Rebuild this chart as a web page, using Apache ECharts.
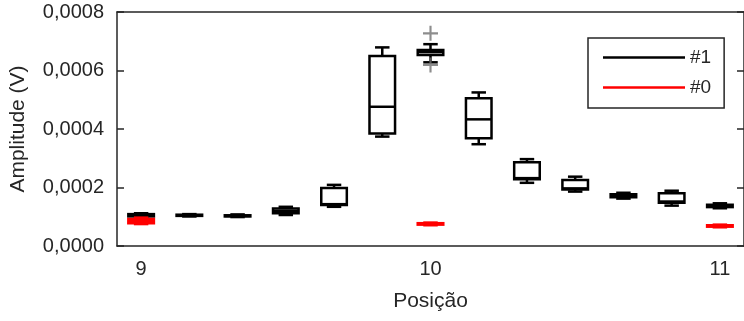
<!DOCTYPE html>
<html lang="pt">
<head>
    <meta charset="UTF-8">
    <title>Amplitude por posição</title>
    <script src="https://cdn.jsdelivr.net/npm/echarts@6/dist/echarts.min.js"></script>
</head>
<body style="margin:0">
<div id="main" style="width: 744px;height:321px;"></div>
<script>
    // posições no eixo x (uma caixa por posição)
    var posicoes = ['9', '9.17', '9.33', '9.5', '9.67', '9.83', '10', '10.17', '10.33', '10.5', '10.67', '10.83', '11'];

    // #1: [min, q1, mediana, q3, max] por posição
    var caixas1 = [
        [0.000098, 0.000101, 0.000105, 0.000109, 0.000112],
        [0.000101, 0.000103, 0.000105, 0.000107, 0.000109],
        [0.000099, 0.000101, 0.000103, 0.000105, 0.000108],
        [0.000106, 0.000112, 0.000120, 0.000128, 0.000134],
        [0.000134, 0.000140, 0.000143, 0.000198, 0.000209],
        [0.000374, 0.000385, 0.000476, 0.000650, 0.000679],
        [0.000628, 0.000653, 0.000663, 0.000670, 0.000690],
        [0.000348, 0.000368, 0.000433, 0.000505, 0.000525],
        [0.000216, 0.000228, 0.000232, 0.000286, 0.000297],
        [0.000186, 0.000193, 0.000197, 0.000226, 0.000237],
        [0.000162, 0.000167, 0.000172, 0.000177, 0.000182],
        [0.000138, 0.000148, 0.000152, 0.000180, 0.000189],
        [0.000129, 0.000133, 0.000137, 0.000141, 0.000146]
    ];
    var outliers1 = [[6, 0.000727], [6, 0.000619]];

    // #0: só nas posições 9, 10 e 11
    var indices0 = [0, 6, 12];
    var caixas0 = [
        [0.000075, 0.000078, 0.000085, 0.000092, 0.000097],
        [0.000071, 0.000073, 0.000076, 0.000078, 0.000080],
        [0.000064, 0.000066, 0.000069, 0.000071, 0.000073]
    ];

    var yTicks = [0, 0.0002, 0.0004, 0.0006, 0.0008];

    var eixo = '#262626';
    var fonte = 'Liberation Sans, Arial, sans-serif';

    function boxItem(cor) {
        return function (params, api) {
            var i = api.value(0);
            var pMin = api.coord([i, api.value(1)]);
            var pQ1 = api.coord([i, api.value(2)]);
            var pMed = api.coord([i, api.value(3)]);
            var pQ3 = api.coord([i, api.value(4)]);
            var pMax = api.coord([i, api.value(5)]);
            var w = api.size([1, 0])[0];
            var hb = w * 0.265;
            var hc = w * 0.15;
            var x = pMin[0];
            var st = {stroke: cor, lineWidth: 2.5, fill: 'none'};
            return {
                type: 'group',
                children: [
                    {type: 'line', shape: {x1: x, y1: pMax[1], x2: x, y2: pQ3[1]}, style: st},
                    {type: 'line', shape: {x1: x, y1: pQ1[1], x2: x, y2: pMin[1]}, style: st},
                    {type: 'line', shape: {x1: x - hc, y1: pMax[1], x2: x + hc, y2: pMax[1]}, style: st},
                    {type: 'line', shape: {x1: x - hc, y1: pMin[1], x2: x + hc, y2: pMin[1]}, style: st},
                    {type: 'rect', shape: {x: x - hb, y: pQ3[1], width: hb * 2, height: pQ1[1] - pQ3[1]}, style: st},
                    {type: 'line', shape: {x1: x - hb, y1: pMed[1], x2: x + hb, y2: pMed[1]}, style: st}
                ]
            };
        };
    }

    var dados1 = caixas1.map(function (c, i) { return [i].concat(c); });
    var dados0 = caixas0.map(function (c, k) { return [indices0[k]].concat(c); });

    var myChart = echarts.init(document.getElementById('main'));
    var option = {
        animation: false,
        grid: {left: 116, right: -6, top: 12, bottom: 75},
        legend: {
            data: [
                {name: '#1', icon: 'rect', itemStyle: {color: '#000000'}},
                {name: '#0', icon: 'rect', itemStyle: {color: '#ff0000'}}
            ],
            orient: 'vertical',
            left: 588,
            top: 38,
            padding: [10, 13, 11, 15],
            itemGap: 11,
            itemWidth: 82,
            itemHeight: 2.5,
            borderColor: eixo,
            borderWidth: 1.5,
            borderRadius: 0,
            backgroundColor: '#fff',
            selectedMode: false,
            textStyle: {fontFamily: fonte, fontSize: 19, color: eixo}
        },
        xAxis: [
            {
                type: 'category',
                data: posicoes,
                boundaryGap: true,
                name: 'Posição',
                nameLocation: 'middle',
                nameGap: 45,
                nameTextStyle: {fontFamily: fonte, fontSize: 21, color: eixo},
                axisLine: {onZero: false, lineStyle: {color: eixo, width: 1.5}},
                axisTick: {inside: true, alignWithLabel: true, interval: 0, length: 7, lineStyle: {color: eixo, width: 1.5}},
                axisLabel: {
                    interval: 0, margin: 13, fontFamily: fonte, fontSize: 20, color: eixo,
                    formatter: function (v) { return v.indexOf('.') < 0 ? v : ''; }
                },
                splitLine: {show: false}
            },
            {
                type: 'category',
                data: posicoes,
                position: 'top',
                boundaryGap: true,
                axisLine: {onZero: false, lineStyle: {color: eixo, width: 1.5}},
                axisTick: {inside: true, alignWithLabel: true, interval: 0, length: 7, lineStyle: {color: eixo, width: 1.5}},
                axisLabel: {show: false},
                splitLine: {show: false}
            }
        ],
        yAxis: [
            {
                type: 'value',
                min: yTicks[0],
                max: yTicks[yTicks.length - 1],
                interval: yTicks[1] - yTicks[0],
                name: 'Amplitude (V)',
                nameLocation: 'middle',
                nameGap: 88,
                nameTextStyle: {fontFamily: fonte, fontSize: 21, color: eixo},
                axisLine: {show: true, onZero: false, lineStyle: {color: eixo, width: 1.5}},
                axisTick: {show: true, inside: true, length: 7, lineStyle: {color: eixo, width: 1.5}},
                axisLabel: {
                    margin: 13, fontFamily: fonte, fontSize: 20, color: eixo,
                    formatter: function (v) { return v.toFixed(4).replace('.', ','); }
                },
                splitLine: {show: false}
            },
            {
                type: 'value',
                position: 'right',
                min: yTicks[0],
                max: yTicks[yTicks.length - 1],
                interval: yTicks[1] - yTicks[0],
                axisLine: {show: true, onZero: false, lineStyle: {color: eixo, width: 1.5}},
                axisTick: {show: true, inside: true, length: 7, lineStyle: {color: eixo, width: 1.5}},
                axisLabel: {show: false},
                splitLine: {show: false}
            }
        ],
        series: [
            {
                name: '#1',
                type: 'custom',
                renderItem: boxItem('#000000'),
                itemStyle: {color: '#000000'},
                encode: {x: 0, y: [1, 2, 3, 4, 5]},
                data: dados1,
                z: 2
            },
            {
                name: 'outliers',
                type: 'scatter',
                symbol: 'path://M6,0H8V6H14V8H8V14H6V8H0V6H6Z',
                symbolSize: 15,
                itemStyle: {color: '#707070'},
                data: outliers1,
                z: 3
            },
            {
                name: '#0',
                type: 'custom',
                renderItem: boxItem('#ff0000'),
                itemStyle: {color: '#ff0000'},
                encode: {x: 0, y: [1, 2, 3, 4, 5]},
                data: dados0,
                z: 4
            }
        ]
    };

    myChart.setOption(option);
</script>
</body>
</html>
